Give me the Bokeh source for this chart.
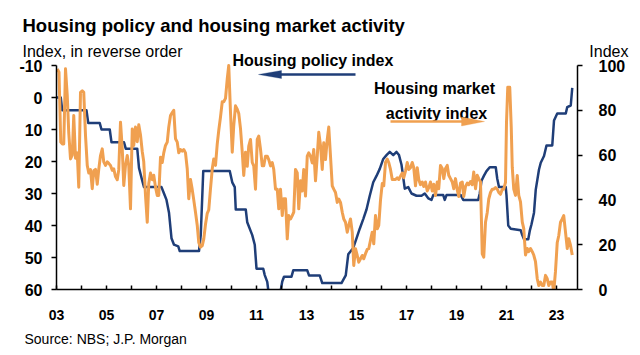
from bokeh.plotting import figure
from bokeh.models import Range1d, LinearAxis, FixedTicker, Label, Arrow, PolyAnnotation, BoxAnnotation
from bokeh.embed import file_html
from bokeh.resources import INLINE

# ---------------- data ----------------
# Housing policy index (left axis, reversed) - time in fractional years
policy_t = [2003.00, 2003.17, 2003.23, 2004.20, 2004.27, 2004.73, 2004.80, 2005.13, 2005.20, 2005.70,
            2005.77, 2006.23, 2006.30, 2006.43, 2006.50, 2007.20, 2007.30, 2007.40, 2007.50, 2007.60,
            2007.70, 2007.87, 2007.93, 2008.70, 2008.77, 2008.87, 2009.93, 2010.03, 2010.13, 2010.17,
            2010.57, 2010.63, 2010.83, 2010.93, 2011.00, 2011.27, 2011.33, 2011.43, 2011.50, 2011.93,
            2012.03, 2012.10, 2012.40, 2012.47, 2013.03, 2013.10, 2013.53, 2013.63, 2014.40, 2014.47,
            2014.57, 2014.67, 2014.87, 2015.00, 2015.13, 2015.27, 2015.40, 2015.53, 2015.67, 2015.80,
            2015.93, 2016.07, 2016.20, 2016.33, 2016.47, 2016.60, 2016.70, 2016.80, 2016.93, 2017.07,
            2017.20, 2017.40, 2017.60, 2017.73, 2017.87, 2018.00, 2018.07, 2018.47, 2018.53, 2018.60,
            2019.17, 2019.27, 2019.87, 2019.93, 2020.00, 2020.10, 2020.20, 2020.33, 2020.57, 2020.63,
            2020.70, 2020.97, 2021.00, 2021.07, 2021.17, 2021.57, 2021.63, 2021.70, 2021.87, 2021.93,
            2022.00, 2022.10, 2022.17, 2022.30, 2022.37, 2022.50, 2022.60, 2022.83, 2022.90, 2023.03,
            2023.37, 2023.43, 2023.57, 2023.63]
policy_v = [0, 0, 4, 4, 8, 8, 10, 10, 14, 14,
            16, 16, 22, 26, 28, 28, 30, 32, 36, 44,
            46, 46.5, 48, 48, 43, 23, 23, 26.5, 28, 35,
            35, 39, 43, 46, 53.5, 53.5, 55.5, 57.6, 62, 62,
            57.5, 56, 56, 54, 54, 55.6, 55.6, 58, 58, 57,
            55.6, 49, 47, 44, 41, 38, 35, 30.7, 26.5, 24.5,
            22.3, 19.2, 18, 17, 18, 17, 18, 21, 28.5, 28,
            30, 30.7, 30.7, 30, 31.5, 32, 30.5, 30.5, 32, 30.5,
            30.5, 32, 32, 30, 26, 24.4, 23, 21.8, 21.8, 25.4,
            28, 28, 30.6, 40, 41, 41.5, 43, 44.3, 44.3, 41.7,
            39.6, 36, 28.8, 22.5, 20.4, 18.3, 15, 15, 7.2, 5,
            5, 3, 2.5, -3]

# Housing market activity index (right axis)
activity_t = [2003.03, 2003.10, 2003.17, 2003.23, 2003.29, 2003.36, 2003.43, 2003.49, 2003.56, 2003.63,
              2003.69, 2003.76, 2003.83, 2003.89, 2003.96, 2004.03, 2004.09, 2004.16, 2004.23, 2004.29,
              2004.36, 2004.43, 2004.49, 2004.56, 2004.63, 2004.69, 2004.76, 2004.83, 2004.89, 2004.96,
              2005.03, 2005.09, 2005.16, 2005.23, 2005.29, 2005.36, 2005.43, 2005.49, 2005.56, 2005.63,
              2005.69, 2005.76, 2005.83, 2005.89, 2005.96, 2006.03, 2006.09, 2006.16, 2006.23, 2006.29,
              2006.36, 2006.43, 2006.49, 2006.56, 2006.63, 2006.69, 2006.76, 2006.83, 2006.89, 2006.96,
              2007.03, 2007.09, 2007.16, 2007.23, 2007.29, 2007.36, 2007.43, 2007.49, 2007.56, 2007.63,
              2007.69, 2007.76, 2007.83, 2007.89, 2007.96, 2008.03, 2008.09, 2008.16, 2008.23, 2008.29,
              2008.36, 2008.43, 2008.49, 2008.56, 2008.63, 2008.69, 2008.76, 2008.83, 2008.89, 2008.96,
              2009.03, 2009.09, 2009.16, 2009.23, 2009.29, 2009.36, 2009.43, 2009.49, 2009.56, 2009.63,
              2009.69, 2009.76, 2009.83, 2009.89, 2009.96, 2010.03, 2010.09, 2010.16, 2010.23, 2010.29,
              2010.36, 2010.43, 2010.49, 2010.56, 2010.63, 2010.69, 2010.76, 2010.83, 2010.89, 2010.96,
              2011.03, 2011.09, 2011.16, 2011.23, 2011.29, 2011.36, 2011.43, 2011.49, 2011.56, 2011.63,
              2011.69, 2011.76, 2011.83, 2011.89, 2011.96, 2012.03, 2012.09, 2012.16, 2012.23, 2012.29,
              2012.36, 2012.43, 2012.49, 2012.56, 2012.63, 2012.69, 2012.76, 2012.83, 2012.89, 2012.96,
              2013.03, 2013.09, 2013.16, 2013.23, 2013.29, 2013.36, 2013.43, 2013.49, 2013.56, 2013.63,
              2013.69, 2013.76, 2013.83, 2013.89, 2013.96, 2014.03, 2014.09, 2014.16, 2014.23, 2014.29,
              2014.36, 2014.43, 2014.49, 2014.56, 2014.63, 2014.69, 2014.76, 2014.83, 2014.89, 2014.96,
              2015.03, 2015.09, 2015.16, 2015.23, 2015.29, 2015.36, 2015.43, 2015.49, 2015.56, 2015.63,
              2015.69, 2015.76, 2015.83, 2015.89, 2015.96, 2016.03, 2016.09, 2016.16, 2016.23, 2016.29,
              2016.36, 2016.43, 2016.49, 2016.56, 2016.63, 2016.69, 2016.76, 2016.83, 2016.89, 2016.96,
              2017.03, 2017.09, 2017.16, 2017.23, 2017.29, 2017.36, 2017.43, 2017.49, 2017.56, 2017.63,
              2017.69, 2017.76, 2017.83, 2017.89, 2017.96, 2018.03, 2018.09, 2018.16, 2018.23, 2018.29,
              2018.36, 2018.43, 2018.49, 2018.56, 2018.63, 2018.69, 2018.76, 2018.83, 2018.89, 2018.96,
              2019.03, 2019.09, 2019.16, 2019.23, 2019.29, 2019.36, 2019.43, 2019.49, 2019.56, 2019.63,
              2019.69, 2019.76, 2019.83, 2019.89, 2019.96, 2020.03, 2020.09, 2020.16, 2020.23, 2020.29,
              2020.36, 2020.43, 2020.49, 2020.56, 2020.63, 2020.69, 2020.76, 2020.83, 2020.89, 2020.96,
              2021.00, 2021.05, 2021.13, 2021.19, 2021.23, 2021.29, 2021.36, 2021.43, 2021.49, 2021.56,
              2021.63, 2021.69, 2021.76, 2021.83, 2021.89, 2021.96, 2022.03, 2022.09, 2022.16, 2022.23,
              2022.29, 2022.36, 2022.43, 2022.49, 2022.56, 2022.63, 2022.69, 2022.76, 2022.83, 2022.89,
              2022.96, 2023.03, 2023.09, 2023.16, 2023.23, 2023.29, 2023.36, 2023.43, 2023.49, 2023.56,
              2023.63]
activity_v = [98.5, 97, 65.8, 65, 65, 98.5, 86.6, 70, 58.3, 60,
              77.7, 58.6, 61, 45.7, 88, 88.7, 88, 68.8, 55.4, 52,
              53.5, 45, 53, 53.6, 47, 53.6, 59.8, 62.8, 57, 55.4,
              57, 56.3, 55.4, 53.2, 53.9, 50.4, 49, 53.4, 74.7, 62.9,
              46.4, 55.4, 59.8, 55.4, 36, 71.7, 64.3, 72.5, 66, 73.5,
              69, 61.6, 57, 42, 30, 47.3, 52, 49, 51, 45.7,
              42, 42, 59, 56.7, 61, 64.3, 65.8, 72.5, 77.7, 79,
              80, 67.3, 65.8, 61, 62.5, 61.8, 62.5, 61, 53.8, 40.5,
              49.1, 44.6, 40, 34.5, 28.6, 21, 18.9, 19.6, 22.5, 29.1,
              34, 35.5, 45, 53.9, 58.3, 55.4, 65, 71, 77, 83.8,
              83.8, 85.3, 94, 100, 79, 61.3, 73.2, 82, 80.5, 78.6,
              71.8, 61.3, 50.9, 61.3, 55, 64, 67, 56.7, 55.2, 44.8,
              67, 68.5, 62.6, 55.2, 55.2, 59.5, 59.5, 58, 55.2, 56.7,
              53.6, 44.8, 44.8, 36, 44.8, 33, 40.5, 40.5, 22.6, 33,
              31.5, 33, 34.5, 53.6, 52, 36, 48.5, 44, 53.6, 41.7,
              59.5, 61, 59.5, 56.5, 62.5, 48.5, 59.5, 70.2, 64.3, 53.6,
              65.5, 58, 67, 72.5, 59.5, 46.3, 44.8, 43.3, 38.9, 40.4,
              38.9, 34.5, 31.5, 30, 25.6, 28.6, 31.5, 25.6, 10.7, 18.2,
              15.2, 12.2, 13.7, 15.2, 13.7, 16, 17.9, 18.2, 22, 25.6,
              20.4, 33, 27.1, 28.6, 39.9, 47.3, 46.3, 56.7, 58.2, 56.7,
              53.6, 49.1, 49.1, 49.1, 49.9, 49.1, 50.6, 52, 49.9, 52.9,
              56.7, 53.6, 54.4, 56.7, 54.4, 46.3, 54.4, 49.1, 46.8, 48,
              46, 48, 44, 45.5, 48, 44, 47, 42, 48, 45,
              55.4, 54, 49.5, 54, 55.4, 51, 49.5, 48, 45, 49.5,
              44.5, 41.5, 47.5, 48, 41.5, 46, 47.5, 46.8, 48.2, 46.8,
              52.5, 45, 51, 49.5, 48, 15.9, 14.4, 30, 34.4, 40.4,
              43.3, 44.8, 44.8, 45.5, 44.8, 43.3, 42.5, 44.8, 44.8, 47.8,
              74.7, 90.3, 90.3, 72.4, 54.6, 44.8, 42, 50.9, 42, 39.1,
              30.2, 27.2, 15.4, 18.3, 16.9, 18.3, 16.9, 15.4, 12.4, 4.8,
              1.8, 3.3, 1.8, 1.8, 6.3, 4.8, 1.8, 3.3, 3.3, -1,
              8.2, 21, 24, 30, 31.5, 33, 25.6, 18.3, 22.7, 19.8,
              15.4]

year_ticks = [2003, 2005, 2007, 2009, 2011, 2013, 2015, 2017, 2019, 2021, 2023]
year_labels = ["03", "05", "07", "09", "11", "13", "15", "17", "19", "21", "23"]
year_minor = [2004, 2006, 2008, 2010, 2012, 2014, 2016, 2018, 2020, 2022]
left_ticks = [-10, 0, 10, 20, 30, 40, 50, 60]
left_labels = ["-10", "0", "10", "20", "30", "40", "50", "60"]
right_ticks = [0, 20, 40, 60, 80, 100]

BLUE = "#1f3e78"
ORANGE = "#f0a050"
FONT = "Liberation Sans"

# plot area: data span and its pixel box on the canvas
X0, X1 = 2003.0, 2023.84          # x extent of the axes
L_TOP, L_BOT = -10, 60            # left axis (reversed)
R_BOT, R_TOP = 0, 100             # right axis
W, H = 632, 347
FL, FR, FT, FB = 56, 577, 65, 289  # pixel box of the axes

def X(px):
    return X0 + (px - FL) * (X1 - X0) / (FR - FL)
def Y(py):
    return L_TOP + (py - FT) * (L_BOT - L_TOP) / (FB - FT)
def R(py):
    return R_BOT + (FB - py) * (R_TOP - R_BOT) / (FB - FT)

p = figure(width=W, height=H, x_range=Range1d(X(0), X(W)), y_range=Range1d(Y(H), Y(0)),
           output_backend="svg", toolbar_location=None, title=None,
           x_axis_location=None, y_axis_location=None,
           min_border_left=0, min_border_right=0, min_border_top=0, min_border_bottom=0)
p.outline_line_color = None
p.xgrid.visible = False
p.ygrid.visible = False
p.background_fill_color = "white"
p.border_fill_color = "white"
p.extra_y_ranges = {"act": Range1d(R(H), R(0))}

def style_axis(ax, size):
    ax.axis_line_color = "black"
    ax.axis_line_width = 1.5
    ax.major_tick_line_color = "black"
    ax.major_tick_line_width = 1.5
    ax.minor_tick_line_color = "black"
    ax.minor_tick_line_width = 1.5
    ax.major_label_text_font = FONT
    ax.major_label_text_font_style = "bold"
    ax.major_label_text_color = "black"
    ax.major_label_text_font_size = size

xa = LinearAxis(fixed_location=L_BOT, bounds=(X0, X1),
                ticker=FixedTicker(ticks=year_ticks, minor_ticks=year_minor))
xa.major_label_overrides = {t: l for t, l in zip(year_ticks, year_labels)}
style_axis(xa, "14px")
xa.major_tick_in = 4
xa.major_tick_out = 0
xa.minor_tick_in = 4
xa.minor_tick_out = 0
xa.major_label_standoff = 20
p.add_layout(xa, "below")

ya = LinearAxis(fixed_location=X0, bounds=(L_TOP, L_BOT), ticker=FixedTicker(ticks=left_ticks))
ya.major_label_overrides = {t: l for t, l in zip(left_ticks, left_labels)}
style_axis(ya, "16px")
ya.major_tick_in = 0
ya.major_tick_out = 5
ya.minor_tick_line_color = None
ya.major_label_standoff = 9
p.add_layout(ya, "left")

ra = LinearAxis(y_range_name="act", fixed_location=X1, bounds=(R_BOT, R_TOP),
                ticker=FixedTicker(ticks=right_ticks))
style_axis(ra, "16px")
ra.major_tick_in = 0
ra.major_tick_out = 5
ra.minor_tick_line_color = None
ra.major_label_standoff = 16
p.add_layout(ra, "right")

p.line(policy_t, policy_v, line_color=BLUE, line_width=2.5, line_join="round")
p.line(activity_t, activity_v, y_range_name="act", line_color=ORANGE, line_width=3, line_join="round")

# white mask below the x axis (values that run off the chart are hidden, as in the original)
p.add_layout(BoxAnnotation(left=X(0), right=X(W), top=L_BOT, bottom=Y(H), fill_color="white",
                           fill_alpha=1, line_color=None, level="glyph"))

def add_text(px, py, text, size, bold=False, align="left", color="black"):
    p.add_layout(Label(x=X(px), y=Y(py), text=text, text_font=FONT, text_font_size=size,
                       text_font_style="bold" if bold else "normal", text_align=align,
                       text_baseline="alphabetic", text_color=color))

add_text(22, 25, "Housing policy and housing market activity", "18.5px", bold=True)
add_text(22, 51, "Index, in reverse order", "16px")
add_text(628, 51, "Index", "16px", align="right")
add_text(24, 338, "Source: NBS; J.P. Morgan", "14px")
add_text(232, 60, "Housing policy index", "16px", bold=True)
add_text(434, 88, "Housing market", "16px", bold=True, align="center")
add_text(436, 113, "activity index", "16px", bold=True, align="center")

# arrows
p.add_layout(Arrow(end=None, x_start=X(355), y_start=Y(74), x_end=X(278), y_end=Y(74),
                   line_color=BLUE, line_width=2.5))
p.add_layout(PolyAnnotation(xs=[X(258), X(281), X(281)], ys=[Y(74), Y(70), Y(78)],
                            fill_color=BLUE, fill_alpha=1, line_color=BLUE, line_width=1))
p.add_layout(Arrow(end=None, x_start=X(390), y_start=Y(121), x_end=X(464), y_end=Y(121),
                   line_color=ORANGE, line_width=2.5))
p.add_layout(PolyAnnotation(xs=[X(484), X(461), X(461)], ys=[Y(121), Y(116.5), Y(125.5)],
                            fill_color=ORANGE, fill_alpha=1, line_color=ORANGE, line_width=1))

open("out.html", "w").write(file_html(p, INLINE))
